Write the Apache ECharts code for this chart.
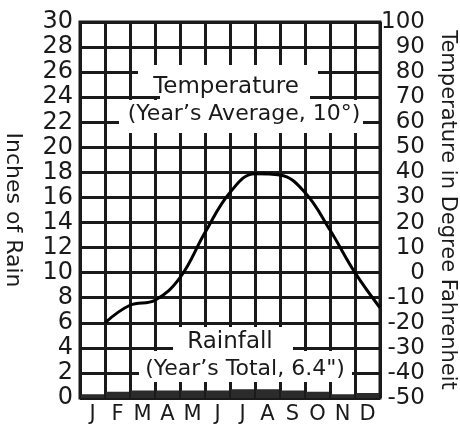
<!DOCTYPE html>
<html>
<head>
<meta charset="utf-8">
<script src="https://cdn.jsdelivr.net/npm/echarts@6/dist/echarts.min.js"></script>
<style>
  html, body { margin: 0; padding: 0; background: #fff; }
  #chart { width: 460px; height: 426px; }
</style>
</head>
<body>
<div id="chart"></div>
<script>
// months along the bottom
const months = ['J', 'F', 'M', 'A', 'M', 'J', 'J', 'A', 'S', 'O', 'N', 'D']
// monthly rainfall, inches (total 6.4)
const rainfall = [0.3, 0.5, 0.6, 0.6, 0.6, 0.6, 0.7, 0.7, 0.6, 0.5, 0.3, 0.4]
// temperature in degrees F, read at the end of each month
const temperature = [-20, -13, -11, -2, 16, 32, 39.5, 39, 32, 17, 0, -14]

const ink = '#1a1a1a'
const font = 'DejaVu Sans'

const tempPoints = temperature.map((t, i) => [i + 1, t])

const chart = echarts.init(document.getElementById('chart'))

const option = {
  animation: false,
  backgroundColor: '#fff',
  grid: {
    left: 80, top: 22, width: 300, height: 376,
    containLabel: false,
    outerBoundsMode: 'none',
    show: true, borderColor: ink, borderWidth: 3
  },
  xAxis: [
    {
      type: 'category',
      data: months,
      boundaryGap: true,
      axisLine: { show: false },
      axisTick: { show: false },
      splitLine: { show: false },
      axisLabel: { interval: 0, color: ink, fontFamily: font, fontSize: 21, margin: 6 }
    },
    {
      type: 'value',
      min: 0, max: 12, interval: 1,
      position: 'bottom',
      axisLine: { show: false },
      axisTick: { show: false },
      axisLabel: { show: false },
      splitLine: { show: true, lineStyle: { color: ink, width: 3 } }
    }
  ],
  yAxis: [
    {
      type: 'value',
      min: 0, max: 30, interval: 2,
      name: 'Inches of Rain',
      nameLocation: 'middle',
      nameRotate: -90,
      nameGap: 56,
      nameTextStyle: { color: ink, fontFamily: font, fontSize: 22 },
      axisLine: { show: false },
      axisTick: { show: false },
      axisLabel: { color: ink, fontFamily: font, fontSize: 24, margin: 7 },
      splitLine: { show: true, lineStyle: { color: ink, width: 3 } }
    },
    {
      type: 'value',
      min: -50, max: 100, interval: 10,
      position: 'right',
      name: 'Temperature in Degree Fahrenheit',
      nameLocation: 'middle',
      nameRotate: -90,
      nameGap: 57,
      nameTextStyle: { color: ink, fontFamily: font, fontSize: 21 },
      axisLine: { show: false },
      axisTick: { show: false },
      axisLabel: { color: ink, fontFamily: font, fontSize: 23, margin: 45, align: 'right' },
      splitLine: { show: false }
    }
  ],
  series: [
    {
      name: 'Rainfall',
      type: 'bar',
      xAxisIndex: 0,
      yAxisIndex: 0,
      data: rainfall,
      barWidth: '92%',
      itemStyle: { color: '#2b2b2b' },
      z: 3
    },
    {
      name: 'Temperature',
      type: 'line',
      xAxisIndex: 1,
      yAxisIndex: 1,
      data: tempPoints,
      smooth: 0.4,
      symbol: 'none',
      lineStyle: { color: '#000', width: 3 },
      z: 4
    }
  ],
  graphic: [
    // white patches under the labels
    { type: 'rect', z: 10, shape: { x: 138, y: 65, width: 180, height: 31 }, style: { fill: '#fff' } },
    { type: 'rect', z: 10, shape: { x: 160, y: 94, width: 150, height: 8 }, style: { fill: '#fff' } },
    { type: 'rect', z: 10, shape: { x: 119, y: 100, width: 244, height: 33 }, style: { fill: '#fff' } },
    { type: 'rect', z: 10, shape: { x: 173, y: 327, width: 120, height: 24 }, style: { fill: '#fff' } },
    { type: 'rect', z: 10, shape: { x: 139, y: 351, width: 213, height: 31 }, style: { fill: '#fff' } },
    { type: 'text', z: 11, x: 226, y: 87, style: { text: 'Temperature', fill: ink, font: '23px "DejaVu Sans"', textAlign: 'center', textVerticalAlign: 'middle' } },
    { type: 'text', z: 11, x: 244, y: 114, style: { text: '(Year’s Average, 10°)', fill: ink, font: '22px "DejaVu Sans"', textAlign: 'center', textVerticalAlign: 'middle' } },
    { type: 'text', z: 11, x: 230, y: 342, style: { text: 'Rainfall', fill: ink, font: '23px "DejaVu Sans"', textAlign: 'center', textVerticalAlign: 'middle' } },
    { type: 'text', z: 11, x: 245, y: 369, style: { text: '(Year’s Total, 6.4")', fill: ink, font: '22px "DejaVu Sans"', textAlign: 'center', textVerticalAlign: 'middle' } }
  ]
}

chart.setOption(option)
</script>
</body>
</html>
